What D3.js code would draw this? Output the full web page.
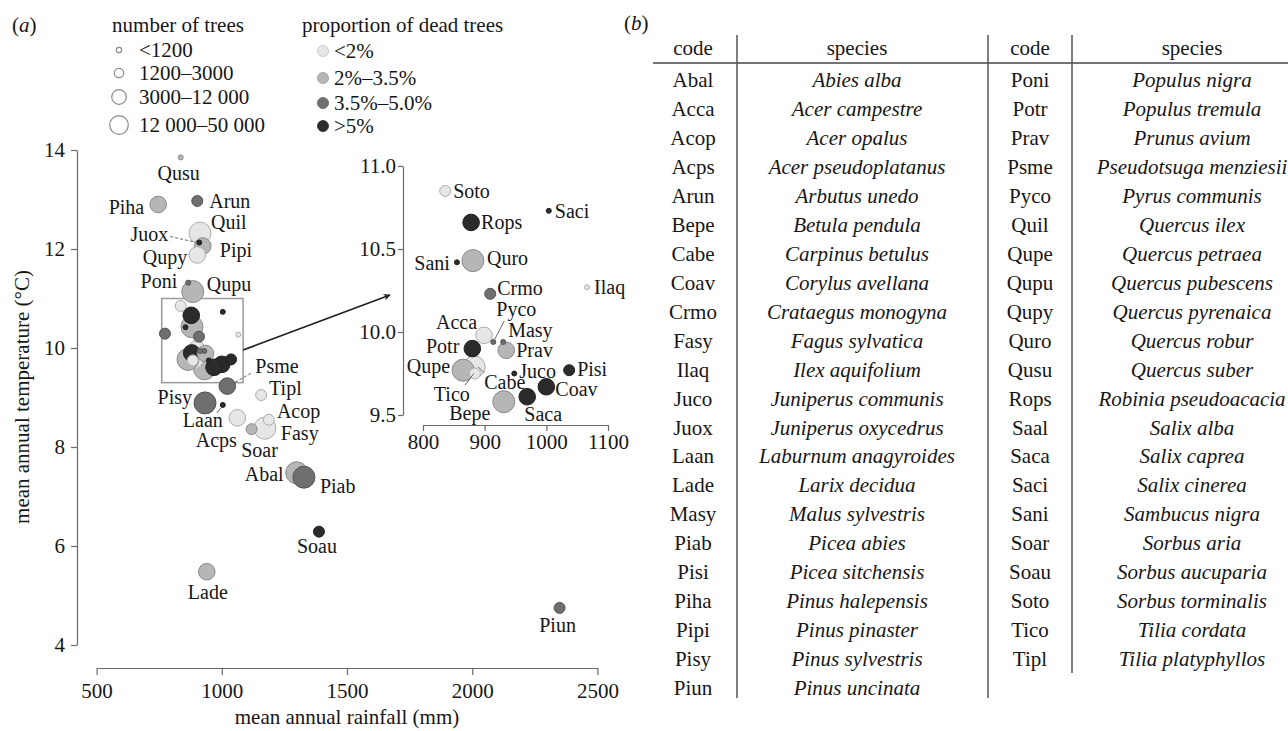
<!DOCTYPE html>
<html><head><meta charset="utf-8">
<script src="https://cdn.jsdelivr.net/npm/d3@7"></script>
<style>
body{margin:0;background:#fff;}
svg text{font-family:"Liberation Serif","Times New Roman",serif;fill:#161616;font-size:21px;}
svg text.pl{font-size:20px;}
</style></head><body>
<svg id="c" width="1288" height="731"></svg>
<script>
// ---------------- data ----------------
const codes = ["Abal","Acca","Acop","Acps","Arun","Bepe","Cabe","Coav","Crmo","Fasy","Ilaq","Juco","Juox","Laan","Lade","Masy","Piab","Pisi","Piha","Pipi","Pisy","Piun","Poni","Potr","Prav","Psme","Pyco","Quil","Qupe","Qupu","Qupy","Quro","Qusu","Rops","Saal","Saca","Saci","Sani","Soar","Soau","Soto","Tico","Tipl"];
const species = ["Abies alba","Acer campestre","Acer opalus","Acer pseudoplatanus","Arbutus unedo","Betula pendula","Carpinus betulus","Corylus avellana","Crataegus monogyna","Fagus sylvatica","Ilex aquifolium","Juniperus communis","Juniperus oxycedrus","Laburnum anagyroides","Larix decidua","Malus sylvestris","Picea abies","Picea sitchensis","Pinus halepensis","Pinus pinaster","Pinus sylvestris","Pinus uncinata","Populus nigra","Populus tremula","Prunus avium","Pseudotsuga menziesii","Pyrus communis","Quercus ilex","Quercus petraea","Quercus pubescens","Quercus pyrenaica","Quercus robur","Quercus suber","Robinia pseudoacacia","Salix alba","Salix caprea","Salix cinerea","Sambucus nigra","Sorbus aria","Sorbus aucuparia","Sorbus torminalis","Tilia cordata","Tilia platyphyllos"];
// mean annual rainfall (mm)
const rainfall = [1299,899,1188,1062,902,931,883,1000,909,1172,1066,948,910,1004,940,930,1328,1037,746,924,933,2349,866,880,935,1022,914,913,865,884,902,881,836,878,773,969,1004,855,1119,1388,836,884,1157];
// mean annual temperature (°C)
const temperature = [7.48,9.98,8.55,8.59,12.97,9.58,9.79,9.67,10.23,8.38,10.27,9.75,12.13,8.85,5.48,9.94,7.39,9.77,12.90,12.06,8.89,4.75,11.32,9.90,9.89,9.23,9.94,12.32,9.77,11.14,11.88,10.43,13.85,10.66,10.29,9.61,10.73,10.42,8.36,6.29,10.85,9.75,9.05];
// number-of-trees class: 0 <1200, 1 1200-3000, 2 3000-12000, 3 12000-50000
const treeClass = [3,2,1,2,1,3,3,2,1,3,0,0,0,0,2,0,3,1,2,2,3,1,0,2,2,2,0,3,3,3,2,3,0,2,1,2,0,0,1,1,1,1,1];
// dead-proportion class: 0 <2%, 1 2-3.5%, 2 3.5-5%, 3 >5%
const deadClass = [1,0,0,0,2,1,0,3,2,0,0,3,3,3,1,2,2,3,1,1,2,2,2,3,1,2,2,0,1,1,0,1,1,3,2,3,3,3,1,3,0,0,0];

const treeLegend = ["<1200","1200–3000","3000–12 000","12 000–50 000"];
const deadLegend = ["<2%","2%–3.5%","3.5%–5.0%",">5%"];
const mainXTicks = [500,1000,1500,2000,2500];
const mainYTicks = [4,6,8,10,12,14];
const insetXTicks = [800,900,1000,1100];
const insetYTicks = [9.5,10.0,10.5,11.0];
const zoomBox = {x0:760, x1:1085, y0:9.3, y1:11.0};

// ---------------- layout / style ----------------
const deadFill = ["#e6e6e6","#b6b6b6","#6f6f6f","#2b2b2b"];
const rClass = [2.5,5.5,8.3,11];
const rLegend = [2.7,4.7,7.3,9.3];

const labelMain = {
 Qusu:["middle",-2,16], Piha:["end",-14,3], Arun:["start",12,0], Quil:["start",11,-11],
 Juox:["end",-31,-8], Pipi:["start",17,4], Qupy:["end",-10,2], Poni:["end",-11,-1],
 Qupu:["start",14,-7], Psme:["start",28,-20], Tipl:["start",8,-7], Pisy:["end",-13,-6],
 Laan:["middle",-20,15], Acps:["middle",-21,22], Acop:["start",8,-9], Fasy:["start",16,5],
 Soar:["middle",8,21], Abal:["end",-13,1], Piab:["start",16,9], Soau:["middle",-2,15],
 Lade:["middle",1,20], Piun:["middle",-2,17]
};
const labelInset = {
 Soto:["start",8,0], Rops:["start",10,0], Saci:["start",6,0], Sani:["end",-7,1],
 Quro:["start",14,-2], Crmo:["start",7,-6], Ilaq:["start",7,0], Pyco:["middle",23,-33],
 Acca:["end",-7,-13], Masy:["start",5,-12], Potr:["end",-13,-2], Prav:["start",10,0],
 Qupe:["end",-13,-4], Juco:["start",5,-2], Pisi:["start",8,-1], Cabe:["start",10,15],
 Coav:["start",9,2], Tico:["middle",-23,21], Bepe:["middle",-34,11], Saca:["middle",16,17]
};
const leaderMain = {Juox:[-29,-6,-2,0,true], Psme:[8,-4,24,-13,true], Laan:[-6,8,-1,2,false]};
const leaderInset = {Pyco:[0,0,11,-21,false], Tico:[-10,12,-1,0,false], Cabe:[4,0,10,6,false]};

const svg = d3.select("#c");
const pts = codes.map((c,i)=>({code:c, x:rainfall[i], y:temperature[i], r:rClass[treeClass[i]], fill:deadFill[deadClass[i]]}));

// ---------------- main panel ----------------
const xM = d3.scaleLinear().domain([500,2500]).range([96.6,597.4]);
const yM = d3.scaleLinear().domain([4,14]).range([645,150]);

function styleAxis(g){
  g.selectAll("path,line").attr("stroke","#6a6a6a").attr("stroke-width",1.2);
  g.selectAll("text").attr("font-family",'"Liberation Serif",serif').attr("font-size",21).attr("fill","#161616");
}
svg.append("g").attr("transform","translate(0,668)")
  .call(d3.axisBottom(xM).tickValues(mainXTicks).tickSize(7).tickSizeOuter(0).tickPadding(8).tickFormat(d3.format("d")))
  .call(styleAxis);
svg.append("g").attr("transform","translate(77,0)")
  .call(d3.axisLeft(yM).tickValues(mainYTicks).tickSize(6).tickSizeOuter(0).tickPadding(6).tickFormat(d3.format("d")))
  .call(styleAxis);

svg.append("text").attr("x",347).attr("y",724).attr("text-anchor","middle").text("mean annual rainfall (mm)");
svg.append("text").attr("transform","translate(29,397) rotate(-90)").attr("text-anchor","middle").text("mean annual temperature (°C)");

const sorted = pts.slice().sort((a,b)=>b.r-a.r);
function drawPoints(g, data, xs, ys){
  g.selectAll("circle").data(data).join("circle")
    .attr("cx",d=>xs(d.x)).attr("cy",d=>ys(d.y)).attr("r",d=>d.r)
    .attr("fill",d=>d.fill).attr("stroke",d=>d3.color(d.fill).darker(0.8)).attr("stroke-width",1);
}
// zoom box
svg.append("rect")
  .attr("x",xM(zoomBox.x0)).attr("y",yM(zoomBox.y1))
  .attr("width",xM(zoomBox.x1)-xM(zoomBox.x0)).attr("height",yM(zoomBox.y0)-yM(zoomBox.y1))
  .attr("fill","none").attr("stroke","#9a9a9a").attr("stroke-width",1.5);
drawPoints(svg.append("g"), sorted, xM, yM);

function drawLabels(layout, leaders, xs, ys){
  const g = svg.append("g");
  pts.forEach(p=>{
    const px = xs(p.x), py = ys(p.y);
    if(leaders[p.code]){
      const l = leaders[p.code];
      g.append("line").attr("x1",px+l[0]).attr("y1",py+l[1]).attr("x2",px+l[2]).attr("y2",py+l[3])
        .attr("stroke","#666").attr("stroke-width",1).attr("stroke-dasharray",l[4]?"3,2":null);
    }
    if(layout[p.code]){
      const L = layout[p.code];
      g.append("text").attr("class","pl").attr("x",px+L[1]).attr("y",py+L[2]).attr("dy","0.34em")
        .attr("text-anchor",L[0]).text(p.code);
    }
  });
}
drawLabels(labelMain, leaderMain, xM, yM);

// arrow
svg.append("defs").append("marker").attr("id","ah").attr("viewBox","0 0 10 10")
  .attr("refX",9).attr("refY",5).attr("markerWidth",9).attr("markerHeight",7)
  .attr("markerUnits","userSpaceOnUse").attr("orient","auto")
  .append("path").attr("d","M0,0 L10,5 L0,10 L3,5 Z").attr("fill","#222");
svg.append("line").attr("x1",xM(zoomBox.x1)).attr("y1",350).attr("x2",390).attr("y2",295)
  .attr("stroke","#222").attr("stroke-width",1.8).attr("marker-end","url(#ah)");

// ---------------- inset ----------------
const xI = d3.scaleLinear().domain([800,1100]).range([423,608]);
const yI = d3.scaleLinear().domain([9.5,11]).range([415,166]);
svg.append("g").attr("transform","translate(0,425)")
  .call(d3.axisBottom(xI).tickValues(insetXTicks).tickSize(6).tickSizeOuter(0).tickPadding(3).tickFormat(d3.format("d")))
  .call(styleAxis);
svg.append("g").attr("transform","translate(403,0)")
  .call(d3.axisLeft(yI).tickValues(insetYTicks).tickSize(5).tickSizeOuter(0).tickPadding(2).tickFormat(d3.format(".1f")))
  .call(styleAxis);
const insetPts = sorted.filter(d=>d.x>=790 && d.x<=1100 && d.y>=9.45 && d.y<=11.0);
drawPoints(svg.append("g"), insetPts, xI, yI);
drawLabels(labelInset, leaderInset, xI, yI);

// ---------------- legends ----------------
const pa = svg.append("text").attr("x",12).attr("y",25).attr("dy","0.34em");
pa.append("tspan").text("(");
pa.append("tspan").attr("font-style","italic").text("a");
pa.append("tspan").text(")");

svg.append("text").attr("x",178).attr("y",25).attr("dy","0.34em").attr("text-anchor","middle").text("number of trees");
const tY = [50,73,97,125];
treeLegend.forEach((t,i)=>{
  svg.append("circle").attr("cx",119).attr("cy",tY[i]).attr("r",rLegend[i]).attr("fill","none").attr("stroke","#8a8a8a").attr("stroke-width",1.2);
  svg.append("text").attr("x",139).attr("y",tY[i]).attr("dy","0.34em").text(t);
});
svg.append("text").attr("x",302).attr("y",25).attr("dy","0.34em").text("proportion of dead trees");
const dY = [51,78,103,126];
deadLegend.forEach((t,i)=>{
  svg.append("circle").attr("cx",323).attr("cy",dY[i]).attr("r",5.5).attr("fill",deadFill[i]).attr("stroke",d3.color(deadFill[i]).darker(0.5)).attr("stroke-width",0.8);
  svg.append("text").attr("x",334).attr("y",dY[i]).attr("dy","0.34em").text(t);
});

// ---------------- table (b) ----------------
const pb = svg.append("text").attr("x",624).attr("y",23).attr("dy","0.34em");
pb.append("tspan").text("(");
pb.append("tspan").attr("font-style","italic").text("b");
pb.append("tspan").text(")");

const split = 22;
const groups = [
  {codes:codes.slice(0,split), sp:species.slice(0,split), cx:693, sx:857},
  {codes:codes.slice(split), sp:species.slice(split), cx:1030, sx:1192}
];
const rowY0 = 80, rowStep = 28.95, headY = 48;
const tg = svg.append("g");
groups.forEach(g=>{
  tg.append("text").attr("x",g.cx).attr("y",headY).attr("dy","0.34em").attr("text-anchor","middle").text("code");
  tg.append("text").attr("x",g.sx).attr("y",headY).attr("dy","0.34em").attr("text-anchor","middle").text("species");
  g.codes.forEach((c,i)=>{
    tg.append("text").attr("x",g.cx).attr("y",rowY0+i*rowStep).attr("dy","0.34em").attr("text-anchor","middle").text(c);
    tg.append("text").attr("x",g.sx).attr("y",rowY0+i*rowStep).attr("dy","0.34em").attr("text-anchor","middle").attr("font-style","italic").text(g.sp[i]);
  });
});
tg.append("line").attr("x1",653).attr("x2",1288).attr("y1",63).attr("y2",63).attr("stroke","#444").attr("stroke-width",1.5);
[[737,35,698],[988,35,698],[1072,35,673]].forEach(s=>{
  tg.append("line").attr("x1",s[0]).attr("x2",s[0]).attr("y1",s[1]).attr("y2",s[2]).attr("stroke","#555").attr("stroke-width",1.5);
});
</script>
</body></html>
